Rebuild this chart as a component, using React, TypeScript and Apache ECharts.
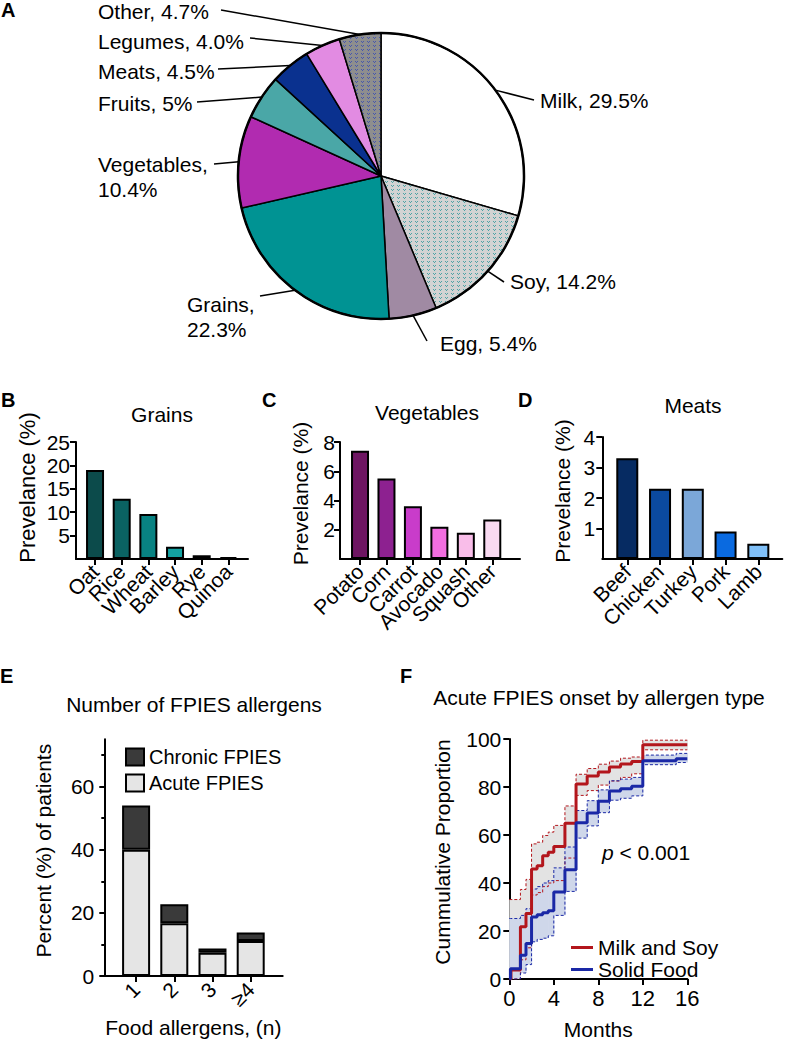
import React, { useEffect, useRef } from "react";
import * as echarts from "echarts";

// ---------------- DATA ----------------
const pieNames = ["Milk", "Soy", "Egg", "Grains", "Vegetables", "Fruits", "Meats", "Legumes", "Other"];
const pieValues = [29.5, 14.2, 5.4, 22.3, 10.4, 5, 4.5, 4.0, 4.7];
const pieLabels = ["Milk, 29.5%", "Soy, 14.2%", "Egg, 5.4%", "Grains,\n22.3%", "Vegetables,\n10.4%", "Fruits, 5%", "Meats, 4.5%", "Legumes, 4.0%", "Other, 4.7%"];

const grainCats = ["Oat", "Rice", "Wheat", "Barley", "Rye", "Quinoa"];
const grainVals = [19, 12.9, 9.6, 2.6, 0.8, 0.4];
const grainTicks = [5, 10, 15, 20, 25];

const vegCats = ["Potato", "Corn", "Carrot", "Avocado", "Squash", "Other"];
const vegVals = [7.4, 5.5, 3.6, 2.2, 1.8, 2.7];
const vegTicks = [2, 4, 6, 8];

const meatCats = ["Beef", "Chicken", "Turkey", "Pork", "Lamb"];
const meatVals = [3.3, 2.3, 2.3, 0.9, 0.5];
const meatTicks = [1, 2, 3, 4];

const nCats = ["1", "2", "3", "≥4"];
const acuteVals = [40, 16.7, 7.4, 11.1];
const chronicVals = [14, 6, 1.3, 2.7];
const eTicks = [0, 20, 40, 60];
const eMinorTicks = [10, 30, 50, 70];

const redT = [0, 0.15, 1, 1.5, 2, 2.5, 3, 3.5, 4, 5, 6, 7, 8, 9, 10, 11, 12, 16];
const redEst = [0, 3.7, 21.8, 27.3, 45.8, 47.2, 51.4, 52.8, 55.2, 64.9, 81.2, 84.6, 86.2, 88.3, 89.6, 90.6, 97.6, 97.6];
const redLo = [0, 0, 8, 13, 35, 36, 38.5, 40, 41, 50.4, 76.5, 78.5, 80.8, 82.5, 84, 85.5, 95.5, 95.5];
const redUp = [33.1, 33.1, 37.3, 41.5, 56.3, 57, 59.8, 61.2, 64, 72.1, 85.3, 87.7, 89.5, 90.8, 92, 92.5, 99.5, 99.5];

const blueT = [0, 0.1, 1, 1.5, 2, 2.5, 3, 3.5, 4, 5, 6, 7, 8, 9, 10, 11, 12, 15, 16];
const blueEst = [0, 4.3, 9.9, 14.8, 25.8, 26.8, 27.6, 28.4, 36.3, 45.5, 65.1, 69.2, 74.1, 78.3, 79.3, 80.3, 90.9, 91.8, 91.8];
const blueLo = [0, 0, 2.5, 6, 15.5, 16.5, 17, 18, 26.5, 36.5, 58.7, 63.8, 69.3, 74.5, 75.3, 76.3, 89.3, 90.2, 90.2];
const blueUp = [25.2, 25.2, 26.5, 29.3, 37.5, 38.5, 40, 41, 46.3, 55, 70.2, 74.3, 78.8, 82.6, 83.3, 84, 93.3, 94, 94];
const fYTicks = [0, 20, 40, 60, 80, 100];

// ---------------- STYLE / LAYOUT ----------------
const FONT = "'Liberation Sans', Arial, Helvetica, sans-serif";
const BLACK = "#000";
const PIE_CX = 381;
const PIE_CY = 176;
const PIE_R = 143;

// small repeating texture tiles (style only)
function makePattern(w: number, h: number, bg: string, fg: string, pts: number[][], fallback: string): any {
  try {
    const c = document.createElement("canvas");
    c.width = w;
    c.height = h;
    const ctx = c.getContext("2d");
    if (!ctx) return fallback;
    ctx.fillStyle = bg;
    ctx.fillRect(0, 0, w, h);
    ctx.fillStyle = fg;
    pts.forEach(([x, y]) => ctx.fillRect(x, y, 1, 1));
    return { image: c, repeat: "repeat", imageWidth: w, imageHeight: h };
  } catch (e) {
    return fallback;
  }
}

const V_MARK = [[1, 1], [2, 2], [3, 1]];

function pieColors(): any[] {
  return [
    "#ffffff",
    makePattern(6, 4, "#d3d3d3", "#4fa3a6", V_MARK, "#c8d2d2"),
    "#a08aa3",
    "#009393",
    "#b12bb0",
    "#4aa7a7",
    "#0a318f",
    "#e28be2",
    makePattern(6, 4, "#8e8e8e", "#4757ad", V_MARK, "#8c8c98"),
  ];
}

// label text anchor (left aligned, middle) and leader-line end
const pieLabelPos = [
  { x: 540, y: 100, lx: 534, ly: 100 },
  { x: 510, y: 281, lx: 504, ly: 282 },
  { x: 440, y: 343, lx: 427, ly: 341 },
  { x: 187, y: 317, lx: 260, ly: 296 },
  { x: 98, y: 177, lx: 214, ly: 164 },
  { x: 98, y: 103, lx: 197, ly: 102 },
  { x: 98, y: 71, lx: 218, ly: 69 },
  { x: 98, y: 41, lx: 250, ly: 38 },
  { x: 98, y: 11, lx: 221, ly: 10 },
];

const grainColors = ["#0c4b4b", "#0a6262", "#088282", "#13a2a2", "#14a6a6", "#1aa8a8"];
const vegColors = ["#6e1562", "#8d2190", "#c93cca", "#f26ee0", "#f9bde9", "#f9daf1"];
const meatColors = ["#062b62", "#0b4aa0", "#7ba7d8", "#0a6ae0", "#80c0f8"];

function buildOption() {
  const grid: any[] = [];
  const xAxis: any[] = [];
  const yAxis: any[] = [];
  const series: any[] = [];
  const graphic: any[] = [];

  const axisLine = { show: true, onZero: false, lineStyle: { color: BLACK, width: 2 } };

  function addBarPanel(p: any) {
    const gFrame = grid.length;
    grid.push({ left: p.left, top: p.top, width: p.width, height: p.height });
    xAxis.push({
      type: "value", gridIndex: gFrame, min: 0, max: 1, axisLine,
      axisTick: { show: false }, axisLabel: { show: false }, splitLine: { show: false },
    });
    yAxis.push({
      type: "value", gridIndex: gFrame, min: 0, max: p.max, interval: p.interval, position: "left",
      axisLine,
      axisTick: { show: true, length: p.tickLen || 6, lineStyle: { color: BLACK, width: 2 }, customValues: p.ticks },
      axisLabel: {
        fontSize: 21, color: BLACK, margin: p.labelMargin, fontFamily: FONT, customValues: p.ticks,
        formatter: (v: number) => (p.ticks.indexOf(v) >= 0 ? String(v) : ""),
      },
      splitLine: { show: false },
      name: p.yName, nameLocation: "middle", nameGap: p.nameGap, nameRotate: 90,
      nameTextStyle: { fontSize: p.nameSize || 21, color: BLACK, fontFamily: FONT, padding: [0, 0, 0, p.nameShift || 14] },
    });
    if (p.minorTicks) {
      yAxis.push({
        type: "value", gridIndex: gFrame, min: 0, max: p.max, position: "left", offset: 0,
        axisLine: { show: false },
        axisTick: { show: true, length: 3, lineStyle: { color: BLACK, width: 2 }, customValues: p.minorTicks },
        axisLabel: { show: false }, splitLine: { show: false },
      });
    }
    const gBars = grid.length;
    grid.push({ left: p.bandLeft, top: p.top, width: p.bandWidth, height: p.height });
    const xi = xAxis.length;
    xAxis.push({
      type: "category", gridIndex: gBars, data: p.cats,
      axisLine: { show: false },
      axisTick: { show: true, alignWithLabel: true, length: 6, lineStyle: { color: BLACK, width: 2 } },
      axisLabel: { rotate: 45, interval: 0, fontSize: 21, color: BLACK, margin: p.catMargin || 9, fontFamily: FONT },
      splitLine: { show: false },
      name: p.xName, nameLocation: "middle", nameGap: p.xNameGap || 40,
      nameTextStyle: { fontSize: 21, color: BLACK, fontFamily: FONT },
    });
    const yi = yAxis.length;
    yAxis.push({ type: "value", gridIndex: gBars, min: 0, max: p.max, show: false });
    p.series.forEach((s: any) => series.push({ type: "bar", xAxisIndex: xi, yAxisIndex: yi, ...s }));
  }

  function coloredBars(vals: number[], colors: string[], width: number) {
    return [{
      name: "bars",
      barWidth: width,
      itemStyle: { borderColor: BLACK, borderWidth: 2 },
      data: vals.map((v, i) => ({ value: v, itemStyle: { color: colors[i] } })),
    }];
  }

  // B - Grains
  addBarPanel({
    left: 76, top: 442, width: 172, height: 117, max: 25, interval: 5, ticks: grainTicks,
    labelMargin: 6, yName: "Prevelance (%)", nameGap: 38, nameSize: 22, nameShift: 26,
    bandLeft: 81.7, bandWidth: 160, cats: grainCats, series: coloredBars(grainVals, grainColors, 18),
  });
  // C - Vegetables
  addBarPanel({
    left: 340, top: 442, width: 180, height: 117, max: 8, interval: 2, ticks: vegTicks,
    labelMargin: 5, yName: "Prevelance (%)", nameGap: 29,
    bandLeft: 346.8, bandWidth: 158.7, cats: vegCats, series: coloredBars(vegVals, vegColors, 18),
  });
  // D - Meats
  addBarPanel({
    left: 602.3, top: 437, width: 180, height: 122, max: 4, interval: 1, ticks: meatTicks,
    labelMargin: 7, yName: "Prevelance (%)", nameGap: 29,
    bandLeft: 610.9, bandWidth: 163.8, cats: meatCats, series: coloredBars(meatVals, meatColors, 22),
  });
  // E - Number of allergens
  addBarPanel({
    left: 104.3, top: 739.3, width: 178.4, height: 236.7, max: 75, interval: 5, ticks: eTicks,
    minorTicks: eMinorTicks, tickLen: 5,
    labelMargin: 10, yName: "Percent (%) of patients", nameGap: 50,
    bandLeft: 117, bandWidth: 152.8, cats: nCats, catMargin: 10,
    xName: "Food allergens, (n)", xNameGap: 41,
    series: [
      { name: "Acute FPIES", stack: "e", barWidth: 28, data: acuteVals,
        itemStyle: { color: "#e5e5e5", borderColor: BLACK, borderWidth: 2 } },
      { name: "Chronic FPIES", stack: "e", barWidth: 28, data: chronicVals,
        itemStyle: { color: "#3a3a3a", borderColor: BLACK, borderWidth: 2 } },
    ],
  });

  // F - cumulative onset curves
  const gF = grid.length;
  grid.push({ left: 509.3, top: 739, width: 178, height: 240 });
  const fxi = xAxis.length;
  xAxis.push({
    type: "value", gridIndex: gF, min: 0, max: 16, interval: 4, axisLine,
    axisTick: { show: true, length: 6, lineStyle: { color: BLACK, width: 2 } },
    axisLabel: { fontSize: 22, color: BLACK, margin: 8, fontFamily: FONT },
    splitLine: { show: false },
    name: "Months", nameLocation: "middle", nameGap: 40,
    nameTextStyle: { fontSize: 21, color: BLACK, fontFamily: FONT },
  });
  const fyi = yAxis.length;
  yAxis.push({
    type: "value", gridIndex: gF, min: 0, max: 100, interval: 20, axisLine,
    axisTick: { show: true, length: 6, lineStyle: { color: BLACK, width: 2 }, customValues: fYTicks },
    axisLabel: { fontSize: 21, color: BLACK, margin: 8, fontFamily: FONT, customValues: fYTicks },
    splitLine: { show: false },
    name: "Cummulative Proportion", nameLocation: "middle", nameGap: 56, nameRotate: 90,
    nameTextStyle: { fontSize: 21, color: BLACK, fontFamily: FONT, padding: [0, 0, 0, 14] },
  });

  const RED = "#b3161c";
  const BLUE = "#1a28a6";
  const zip = (t: number[], v: number[]) => t.map((x, i) => [x, v[i]]);
  const lineBase = { type: "line", step: "end", xAxisIndex: fxi, yAxisIndex: fyi, symbol: "none", silent: true };

  // confidence bands: each step drawn as a rect through the axes' scales
  const band = (name: string, t: number[], lo: number[], up: number[], fill: string) => ({
    type: "custom", name, xAxisIndex: fxi, yAxisIndex: fyi, silent: true,
    encode: { x: 0, y: [1, 2] },
    data: t.map((x, i) => [x, lo[i], up[i]]),
    renderItem: (params: any, api: any) => {
      const i = params.dataIndexInside;
      if (i >= params.dataInsideLength - 1) return null;
      const tNext = api.value(0, i + 1);
      const p1 = api.coord([api.value(0), api.value(2)]);
      const p2 = api.coord([tNext, api.value(1)]);
      return {
        type: "rect",
        shape: { x: p1[0], y: p1[1], width: p2[0] - p1[0] + 0.6, height: p2[1] - p1[1] },
        style: { fill },
      };
    },
  });

  series.push(
    band("redBand", redT, redLo, redUp, "#e3e3e3"),
    band("blueBand", blueT, blueLo, blueUp, "#cfd7ea"),
    { ...lineBase, name: "redLo", data: zip(redT, redLo), lineStyle: { color: RED, width: 1, type: [3, 2] } },
    { ...lineBase, name: "redUp", data: zip(redT, redUp), lineStyle: { color: RED, width: 1, type: [3, 2] } },
    { ...lineBase, name: "blueLo", data: zip(blueT, blueLo), lineStyle: { color: BLUE, width: 1, type: [3, 2] } },
    { ...lineBase, name: "blueUp", data: zip(blueT, blueUp), lineStyle: { color: BLUE, width: 1, type: [3, 2] } },
    { ...lineBase, name: "Milk and Soy", data: zip(redT, redEst), color: RED, itemStyle: { color: RED }, lineStyle: { color: RED, width: 3 } },
    { ...lineBase, name: "Solid Food", data: zip(blueT, blueEst), color: BLUE, itemStyle: { color: BLUE }, lineStyle: { color: BLUE, width: 3 } },
  );

  // A - pie
  const pc = pieColors();
  series.push({
    type: "pie", center: [PIE_CX, PIE_CY], radius: PIE_R, startAngle: 90, clockwise: true, silent: true,
    label: { show: false }, labelLine: { show: false },
    itemStyle: { borderColor: BLACK, borderWidth: 1.5 },
    data: pieNames.map((n, i) => ({ name: n, value: pieValues[i], itemStyle: { color: pc[i] } })),
  });
  series.push({
    type: "pie", center: [PIE_CX, PIE_CY], radius: PIE_R, silent: true,
    label: { show: false }, labelLine: { show: false },
    itemStyle: { color: "rgba(0,0,0,0)", borderColor: BLACK, borderWidth: 2.5 },
    data: [{ name: "outline", value: 1 }],
  });

  // pie labels + leader lines
  const total = pieValues.reduce((a, b) => a + b, 0);
  let cum = 0;
  pieValues.forEach((v, i) => {
    const mid = ((cum + v / 2) / total) * Math.PI * 2;
    cum += v;
    const sx = PIE_CX + PIE_R * Math.sin(mid);
    const sy = PIE_CY - PIE_R * Math.cos(mid);
    const p = pieLabelPos[i];
    graphic.push({ type: "line", silent: true, shape: { x1: sx, y1: sy, x2: p.lx, y2: p.ly }, style: { stroke: BLACK, lineWidth: 1.5 } });
    graphic.push({
      type: "text", silent: true, x: p.x, y: p.y,
      style: { text: pieLabels[i], font: `21px ${FONT}`, fill: BLACK, textAlign: "left", textVerticalAlign: "middle", lineHeight: 25 },
    });
  });

  const txt = (text: string, x: number, y: number, size = 21, bold = false, align = "center") => ({
    type: "text", silent: true, x, y,
    style: { text, font: `${bold ? "bold " : ""}${size}px ${FONT}`, fill: BLACK, textAlign: align, textVerticalAlign: "middle" },
  });
  graphic.push(
    txt("A", 1, 10, 20, true, "left"),
    txt("B", 1, 400, 20, true, "left"),
    txt("C", 262, 400, 20, true, "left"),
    txt("D", 518, 400, 20, true, "left"),
    txt("E", 0, 676, 20, true, "left"),
    txt("F", 400, 676, 20, true, "left"),
    txt("Grains", 162, 414),
    txt("Vegetables", 427, 412),
    txt("Meats", 693, 405),
    txt("Number of FPIES allergens", 194, 704),
    txt("Acute FPIES onset by allergen type", 599, 697),
    {
      type: "text", silent: true, x: 602, y: 852,
      style: {
        text: "{i|p} < 0.001", font: `21px ${FONT}`, fill: BLACK, textAlign: "left", textVerticalAlign: "middle",
        rich: { i: { fontStyle: "italic", fontSize: 21, fontFamily: FONT, fill: BLACK } },
      },
    },
  );

  return {
    animation: false,
    backgroundColor: "#ffffff",
    textStyle: { fontFamily: FONT, color: BLACK },
    grid, xAxis, yAxis, series, graphic,
    legend: [
      {
        data: ["Chronic FPIES", "Acute FPIES"], left: 120, top: 742, orient: "vertical", icon: "rect",
        itemWidth: 18, itemHeight: 17, itemGap: 6, selectedMode: false,
        textStyle: { fontSize: 20, color: BLACK, fontFamily: FONT, lineHeight: 20 },
      },
      {
        data: ["Milk and Soy", "Solid Food"], left: 566, top: 932, orient: "vertical", icon: "rect",
        itemWidth: 22, itemHeight: 3, itemGap: 1, selectedMode: false,
        textStyle: { fontSize: 21, color: BLACK, fontFamily: FONT, lineHeight: 21 },
      },
    ],
  };
}

export default function App() {
  const ref = useRef<HTMLDivElement>(null);
  useEffect(() => {
    if (!ref.current) return;
    const chart = echarts.init(ref.current, null, { renderer: "svg" });
    chart.setOption(buildOption() as any);
    return () => chart.dispose();
  }, []);
  return (
    <div
      ref={ref}
      style={{ position: "absolute", left: 0, top: 0, width: 785, height: 1050, background: "#fff" }}
    />
  );
}
